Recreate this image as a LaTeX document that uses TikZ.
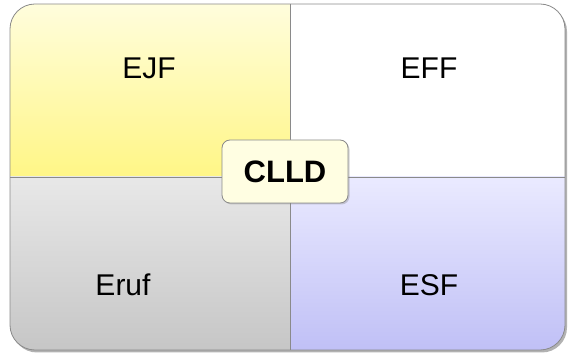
\documentclass[tikz,border=0pt]{standalone}
\usepackage{fontspec}
\setmainfont{Liberation Sans}
\usetikzlibrary{shadows}
\definecolor{yelTop}{HTML}{FFFDDC}
\definecolor{yelBot}{HTML}{FFF686}
\definecolor{grayTop}{HTML}{E8E8E8}
\definecolor{grayBot}{HTML}{C6C6C6}
\definecolor{lavTop}{HTML}{EAEAFF}
\definecolor{lavBot}{HTML}{C0C0F6}
\definecolor{boxFill}{HTML}{FFFEE2}
\definecolor{edge}{HTML}{8A8A8A}
\tikzset{
  lbl/.style={font=\fontsize{30}{34}\selectfont, text=black, inner sep=0pt},
  center box/.style={draw=edge, line width=0.8pt, fill=boxFill, rounded corners=8pt,
     minimum width=126pt, minimum height=63pt, font=\fontsize{31}{35}\selectfont\bfseries,
     drop shadow={shadow xshift=1.5pt, shadow yshift=-1.5pt, opacity=0.35}},
}
\begin{document}
\begin{tikzpicture}[x=1pt,y=-1pt]
\useasboundingbox (0,0) rectangle (568,355);
% shadow of the outer shape
\fill[black!30, rounded corners=25pt] (12,6.5) rectangle (567,352.5);
\begin{scope}
  \clip[rounded corners=25pt] (10,4) rectangle (565,350);
  \shade[top color=yelTop, bottom color=yelBot] (10,4) rectangle (290,177);
  \fill[white] (290,4) rectangle (565,177);
  \shade[top color=grayTop, bottom color=grayBot] (10,177) rectangle (290,350);
  \shade[top color=lavTop, bottom color=lavBot] (290,177) rectangle (565,350);
\end{scope}
\draw[edge, line width=0.8pt, rounded corners=25pt] (10,4) rectangle (565,350);
\coordinate (vt) at (290,4);
\coordinate (vb) at (290,350);
\coordinate (hl) at (10,177);
\coordinate (hr) at (565,177);
\draw[edge, line width=0.8pt] (vt) -- (vb);
\draw[edge, line width=0.8pt] (hl) -- (hr);
\node[lbl] (ejf) at (149,68) {EJF};
\node[lbl] (eff) at (429,68) {EFF};
\node[lbl] (eruf) at (123,285) {Eruf};
\node[lbl] (esf) at (429,285) {ESF};
\node[center box] (clld) at (285,171.5) {CLLD};
\end{tikzpicture}
\end{document}
